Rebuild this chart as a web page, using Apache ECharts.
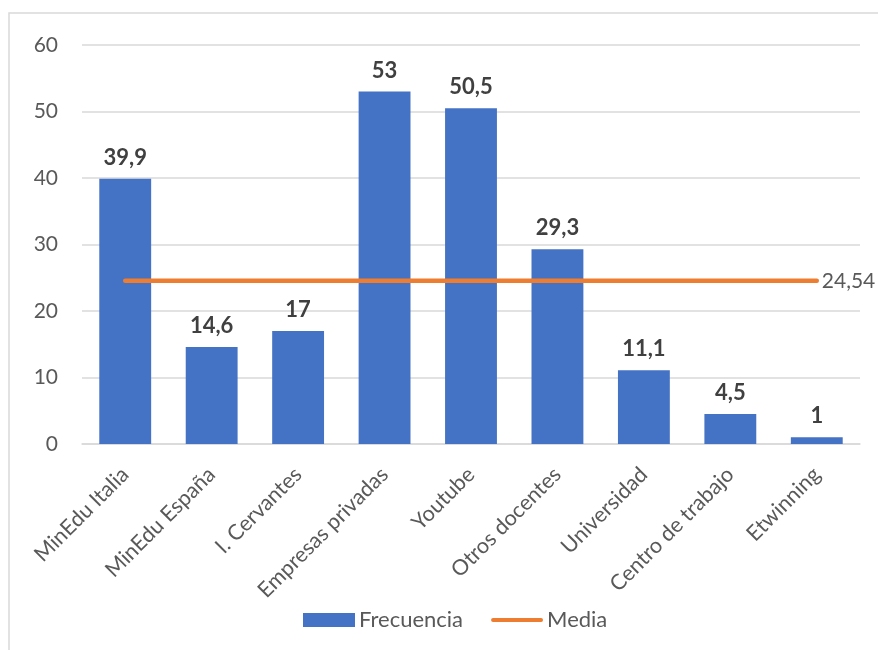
<!DOCTYPE html>
<html>
<head>
<meta charset="utf-8">
<script src="https://cdn.jsdelivr.net/npm/echarts@6/dist/echarts.min.js"></script>
<style>html,body{margin:0;padding:0;background:#fff}#c{width:878px;height:650px}</style>
</head>
<body>
<div id="c"></div>
<script>
const categories = ['MinEdu Italia','MinEdu España','I. Cervantes','Empresas privadas','Youtube','Otros docentes','Universidad','Centro de trabajo','Etwinning'];
const frecuencia = [39.9, 14.6, 17, 53, 50.5, 29.3, 11.1, 4.5, 1];
const mediaValue = 24.54;
const media = categories.map(() => mediaValue);
const yTicks = [0, 10, 20, 30, 40, 50, 60];

const fmt = v => String(v).replace('.', ',');
const FONT = 'Lato';
const chart = echarts.init(document.getElementById('c'));
chart.setOption({
  animation: false,
  textStyle: { fontFamily: FONT },
  graphic: [{
    type: 'rect', shape: { x: 9, y: 13, width: 900, height: 700 },
    style: { fill: 'none', stroke: '#D9D9D9', lineWidth: 1.5 }, silent: true, z: -1
  }],
  grid: { left: 82, right: 18, top: 45, bottom: 206, containLabel: false },
  legend: {
    bottom: 14, left: 298, itemWidth: 52, itemHeight: 14, itemGap: 28,
    textStyle: { color: '#595959', fontSize: 22, fontFamily: FONT, padding: [0, 0, 0, -1] },
    data: [
      { name: 'Frecuencia', icon: 'rect' },
      { name: 'Media', icon: 'path://M0,0 M2,5 L50,5 A2,2 0 0 1 50,9 L2,9 A2,2 0 0 1 2,5 Z M52,14' }
    ]
  },
  xAxis: {
    type: 'category', data: categories,
    axisLine: { lineStyle: { color: '#D9D9D9', width: 1.5 } },
    axisTick: { show: false },
    axisLabel: { rotate: 45, color: '#595959', fontSize: 21.5, margin: 27, interval: 0, fontFamily: FONT }
  },
  yAxis: {
    type: 'value', min: yTicks[0], max: yTicks[yTicks.length - 1], interval: 10,
    axisLine: { show: false }, axisTick: { show: false },
    splitLine: { lineStyle: { color: '#D9D9D9', width: 1.5 } },
    axisLabel: { color: '#595959', fontSize: 21, margin: 24, fontFamily: FONT }
  },
  series: [{
    name: 'Frecuencia', type: 'bar', data: frecuencia, barWidth: '60%',
    itemStyle: { color: '#4472C4' },
    label: { show: true, position: 'top', distance: 10, color: '#404040', fontSize: 22, fontWeight: 'bold',
      fontFamily: FONT, formatter: p => fmt(p.value) }
  }, {
    name: 'Media', type: 'line', data: media, symbol: 'none', showSymbol: false,
    lineStyle: { color: '#ED7D31', width: 4.5, cap: 'round' },
    itemStyle: { color: '#ED7D31' },
    endLabel: { show: true, color: '#595959', fontSize: 21, fontFamily: FONT, distance: 5, formatter: p => fmt(p.value) }
  }]
});
</script>
</body>
</html>
